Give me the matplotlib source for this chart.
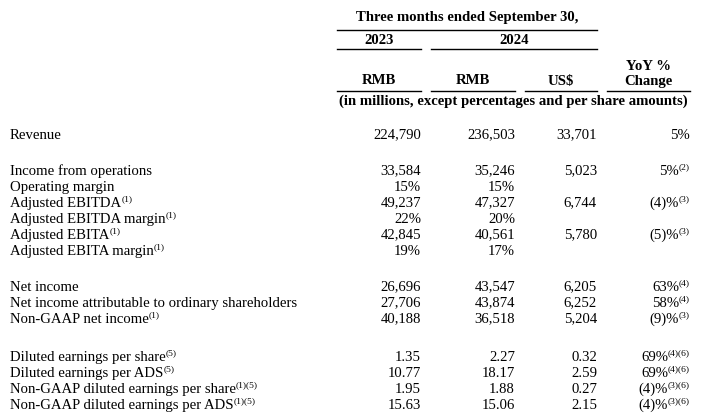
import matplotlib
matplotlib.use("Agg")
import matplotlib.pyplot as plt

plt.rcParams['font.family'] = 'Liberation Serif'

# table data
labels = [
    ["Revenue"],
    ["Income from operations", "Operating margin", "Adjusted EBITDA",
     "Adjusted EBITDA margin", "Adjusted EBITA", "Adjusted EBITA margin"],
    ["Net income", "Net income attributable to ordinary shareholders",
     "Non-GAAP net income"],
    ["Diluted earnings per share", "Diluted earnings per ADS",
     "Non-GAAP diluted earnings per share", "Non-GAAP diluted earnings per ADS"],
]
label_notes = [
    [""],
    ["", "", "(1)", "(1)", "(1)", "(1)"],
    ["", "", "(1)"],
    ["(5)", "(5)", "(1)(5)", "(1)(5)"],
]
rmb_2023 = [
    ["224,790"],
    ["33,584", "15%", "49,237", "22%", "42,845", "19%"],
    ["26,696", "27,706", "40,188"],
    ["1.35", "10.77", "1.95", "15.63"],
]
rmb_2024 = [
    ["236,503"],
    ["35,246", "15%", "47,327", "20%", "40,561", "17%"],
    ["43,547", "43,874", "36,518"],
    ["2.27", "18.17", "1.88", "15.06"],
]
usd_2024 = [
    ["33,701"],
    ["5,023", "", "6,744", "", "5,780", ""],
    ["6,205", "6,252", "5,204"],
    ["0.32", "2.59", "0.27", "2.15"],
]
yoy = [
    ["5%"],
    ["5%", "", "(4)%", "", "(5)%", ""],
    ["63%", "58%", "(9)%"],
    ["69%", "69%", "(4)%", "(4)%"],
]
yoy_notes = [
    [""],
    ["(2)", "", "(3)", "", "(3)", ""],
    ["(4)", "(4)", "(3)"],
    ["(4)(6)", "(4)(6)", "(3)(6)", "(3)(6)"],
]

fig = plt.figure(figsize=(7.07, 4.19), dpi=100)
ax = fig.add_axes([0, 0, 1, 1])
ax.set_xlim(0, 707)
ax.set_ylim(419, 0)
ax.axis('off')
renderer = fig.canvas.get_renderer()

fs = 10.6
sfs = 6.8
rise = 5
gap = 0


def text_width(t):
    bb = t.get_window_extent(renderer=renderer)
    return bb.width  # 1 data unit == 1 pixel here


# header
hdr = dict(ha='center', va='center', fontsize=fs, fontweight='bold')
ax.text(467, 18, "Three months ended September 30,", **hdr)
ax.plot([337, 597], [30, 30], color='black', lw=1.0)
ax.text(379, 41, "2023", **hdr)
ax.text(514, 41, "2024", **hdr)
ax.plot([337, 421], [49, 49], color='black', lw=1.0)
ax.plot([431, 597], [49, 49], color='black', lw=1.0)
ax.text(648, 66, "YoY %", **hdr)
for x, t in zip([379, 473, 561, 648], ["RMB", "RMB", "US$", "Change"]):
    ax.text(x, 81, t, **hdr)
for x0, x1 in [(337, 421), (431, 515), (525, 597), (607, 690)]:
    ax.plot([x0, x1], [91, 91], color='black', lw=1.0)
ax.text(513, 101, "(in millions, except percentages and per share amounts)", **hdr)

# body
group_start = [134, 170, 286, 356]
pitch = 16
for g in range(len(labels)):
    for i in range(len(labels[g])):
        y = group_start[g] + i * pitch + 4.5
        lab = ax.text(10, y, labels[g][i], ha='left', va='baseline', fontsize=fs)
        if label_notes[g][i]:
            ax.text(10 + text_width(lab) + gap, y - rise, label_notes[g][i],
                    ha='left', va='baseline', fontsize=sfs)
        ax.text(421, y, rmb_2023[g][i], ha='right', va='baseline', fontsize=fs)
        ax.text(515, y, rmb_2024[g][i], ha='right', va='baseline', fontsize=fs)
        ax.text(597, y, usd_2024[g][i], ha='right', va='baseline', fontsize=fs)
        xr = 690
        if yoy_notes[g][i]:
            n = ax.text(xr, y - rise, yoy_notes[g][i], ha='right',
                        va='baseline', fontsize=sfs)
            xr = xr - text_width(n) - gap
        if yoy[g][i]:
            ax.text(xr, y, yoy[g][i], ha='right', va='baseline', fontsize=fs)

fig.savefig("out.png", dpi=100)
